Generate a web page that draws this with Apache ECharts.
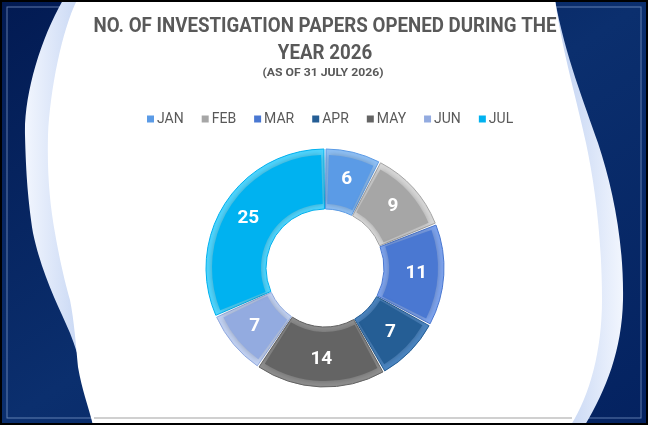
<!DOCTYPE html>
<html><head><meta charset="utf-8">
<script src="https://cdn.jsdelivr.net/npm/echarts@6/dist/echarts.min.js"></script>
<style>html,body{margin:0;padding:0;background:#fff;}#wrap{position:relative;width:648px;height:425px;}#bg{position:absolute;left:0;top:0;}#c{position:absolute;left:0;top:0;width:648px;height:425px;}</style>
</head><body><div id="wrap">
<svg id="bg" width="648" height="425" viewBox="0 0 648 425">
<defs>
<linearGradient id="navy" x1="0" y1="0" x2="1" y2="1"><stop offset="0" stop-color="#021a52"/><stop offset="0.5" stop-color="#0b2f6e"/><stop offset="1" stop-color="#042260"/></linearGradient>
<linearGradient id="band" x1="0" y1="0" x2="1" y2="0"><stop offset="0" stop-color="#f2f6fe"/><stop offset="0.09" stop-color="#c9d8f4"/><stop offset="0.91" stop-color="#c9d8f4"/><stop offset="1" stop-color="#f2f6fe"/></linearGradient>
</defs>
<rect x="0" y="0" width="648" height="425" fill="url(#navy)"/>
<rect x="7" y="7" width="634" height="411" fill="none" stroke="rgba(170,195,235,0.55)" stroke-width="1"/>
<path d="M63,0 C40,40 24,95 25,135 C26,175 28,200 33,233 C42,275 58,305 70,333 C80,358 88,390 93,425 L585,425 C606,390 622,350 623,300 C624,240 612,185 598,143 C585,105 565,55 555,0 Z" fill="url(#band)"/>
<path d="M77,0 C62,30 50,90 48,135 C47,175 50,205 55,233 C60,262 65,282 70,300 C74,320 76,345 78,367 C82,390 88,405 93,425 L571,425 C590,395 602,350 602,300 C602,240 595,185 586,143 C578,105 562,50 555,0 Z" fill="#ffffff"/>
<line x1="94" y1="418" x2="572" y2="418" stroke="#d0d0d0" stroke-width="2"/>
<rect x="1" y="1" width="646" height="423" fill="none" stroke="#000" stroke-width="2"/>
</svg>
<div id="c"></div></div>
<script>
const months = ['JAN','FEB','MAR','APR','MAY','JUN','JUL'];
const papers = [6, 9, 11, 7, 14, 7, 25];
const baseColors = ['#5b9be6','#a6a6a6','#4a78d2','#255e95','#646464','#93abe0','#00b2f0'];
const edgeColors = ['#8fc0f5','#d8d8d8','#7ea4ee','#4c86c2','#8f8f8f','#c2d2f3','#4fd6ff'];
const titleLine1 = 'NO. OF INVESTIGATION PAPERS OPENED DURING THE';
const titleLine2 = 'YEAR 2026';
const subtitleText = '(AS OF 31 JULY 2026)';

const FONT = 'Roboto, "DejaVu Sans", sans-serif';
const cv = document.createElement('canvas').getContext('2d');
function measure(txt, font){ cv.font = font; return cv.measureText(txt).width; }
const tFont = 'bold 21px ' + FONT;
const tScale = 463 / measure(titleLine1, tFont);
const sFont = 'bold 11px ' + FONT;
const sScale = 121 / measure(subtitleText, sFont);

const chart = echarts.init(document.getElementById('c'), null, {renderer:'canvas'});

chart.setOption({
  backgroundColor:'transparent',
  graphic:[
    {type:'text', x:325, y:27, scaleX:tScale, style:{text:titleLine1, fill:'#595959', font:tFont, align:'center', verticalAlign:'middle'}},
    {type:'text', x:325, y:53.5, scaleX:tScale, style:{text:titleLine2, fill:'#595959', font:tFont, align:'center', verticalAlign:'middle'}},
    {type:'text', x:323, y:73.5, scaleX:sScale, style:{text:subtitleText, fill:'#595959', font:sFont, align:'center', verticalAlign:'middle'}}
  ],
  legend:{
    data:months, left:142, top:107, orient:'horizontal',
    icon:'rect', itemWidth:7, itemHeight:7, itemGap:18,
    textStyle:{color:'#595959', fontSize:14, fontFamily:FONT, padding:[0,0,0,-2]}
  },
  series:[
    {
      name:'face', type:'pie', z:4, center:[325,268], radius:[64,113], padAngle:4,
      startAngle:90, clockwise:true, silent:true,
      data: months.map((m,i)=>({name:m, value:papers[i], itemStyle:{color:baseColors[i]}})),
      itemStyle:{borderWidth:0, shadowBlur:6, shadowColor:'rgba(0,0,0,0.25)'},
      label:{show:true, position:'inside', formatter:'{c}', color:'#ffffff', fontSize:19, fontWeight:'bold', fontFamily:FONT},
      labelLine:{show:false}
    },
    {
      name:'edge', type:'pie', z:3, center:[325,268], radius:[59,119], padAngle:1,
      startAngle:90, clockwise:true, silent:true,
      data: months.map((m,i)=>({name:m, value:papers[i], itemStyle:{color:edgeColors[i], borderColor:baseColors[i]}})),
      itemStyle:{borderWidth:1},
      label:{show:false}, labelLine:{show:false}
    }
  ]
});
</script></body></html>
